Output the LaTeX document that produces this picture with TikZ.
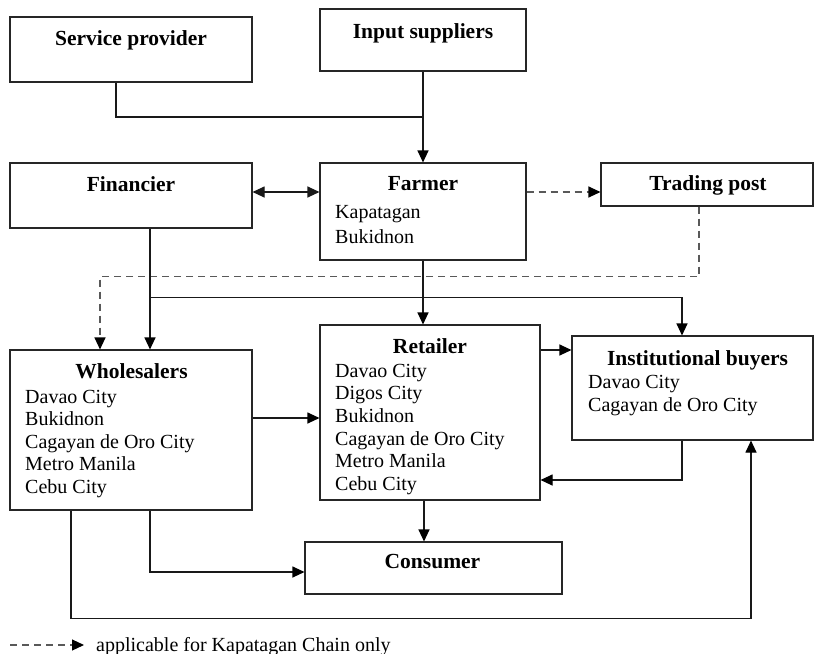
\documentclass[tikz,border=0pt]{standalone}
\usepackage{fontspec}
\setmainfont{Liberation Serif}
\usetikzlibrary{arrows.meta}
\begin{document}
\begin{tikzpicture}[x=1pt,y=-1pt,
  box/.style={draw=black!85,line width=1.1pt,inner sep=0pt,rectangle},
  title/.style={font=\bfseries\fontsize{21.5}{24}\selectfont,inner sep=0pt,anchor=base},
  city/.style={font=\fontsize{20}{23}\selectfont,inner sep=0pt,anchor=base west},
  tip/.style={-{Triangle[length=12pt,width=11pt,fill=black,color=black]}},
  link/.style={line width=1.1pt,draw=black!90},
  flow/.style={link,tip},
  twoway/.style={link,{Triangle[length=12pt,width=11pt]}-{Triangle[length=12pt,width=11pt]}},
  optflow/.style={line width=1.1pt,draw=black!65,dash pattern=on 7pt off 5pt,tip}]
\useasboundingbox (0,0) rectangle (815,654);

% boxes
\node[box,minimum width=242pt,minimum height=65pt] (sp) at (131,49.5) {};
\node[box,minimum width=206pt,minimum height=62pt] (is) at (423,40) {};
\node[box,minimum width=242pt,minimum height=65pt] (fin) at (131,195.5) {};
\node[box,minimum width=206pt,minimum height=97pt] (farm) at (423,211.5) {};
\node[box,minimum width=212pt,minimum height=43pt] (tp) at (707,184.5) {};
\node[box,minimum width=242pt,minimum height=160pt] (ws) at (131,430) {};
\node[box,minimum width=220pt,minimum height=175pt] (ret) at (430,412.5) {};
\node[box,minimum width=241pt,minimum height=104pt] (ib) at (692.5,388) {};
\node[box,minimum width=257pt,minimum height=52pt] (con) at (433.5,568) {};

% titles
\node[title] (spT) at (131,45) {Service provider};
\node[title] (isT) at (423,38) {Input suppliers};
\node[title] (finT) at (131,191) {Financier};
\node[title] (farmT) at (423,190) {Farmer};
\node[title] (tpT) at (708,190) {Trading post};
\node[title] (wsT) at (131.5,378) {Wholesalers};
\node[title] (retT) at (430,353) {Retailer};
\node[title] (ibT) at (697.5,365) {Institutional buyers};
\node[title] (conT) at (432.5,568) {Consumer};

% locations
\node[city] (farm1) at (335,218) {Kapatagan};
\node[city] (farm2) at (335,243) {Bukidnon};
\foreach \t [count=\i] in {Davao City,Bukidnon,Cagayan de Oro City,Metro Manila,Cebu City}
  \node[city] (wsL\i) at (25,{403+22.6*(\i-1)}) {\t};
\foreach \t [count=\i] in {Davao City,Digos City,Bukidnon,Cagayan de Oro City,Metro Manila,Cebu City}
  \node[city] (retL\i) at (335,{377+22.7*(\i-1)}) {\t};
\node[city] (ibL1) at (588,388) {Davao City};
\node[city] (ibL2) at (588,411) {Cagayan de Oro City};

% connectors
\coordinate (spjoin) at (is.south |- 0,117);
\draw[link] ([xshift=-15pt]sp.south) |- (spjoin);
\draw[flow] (is.south) -- (farm.north);
\draw[twoway] ([yshift=3.5pt]fin.east) coordinate (fa) -- (fa -| farm.west);
\draw[optflow] (farm.east |- fa) -- (tp.west |- fa);
\draw[optflow] ([xshift=-8pt]tp.south) -- ++(0,70) -| ([xshift=-31pt]ws.north);
\draw[flow] ([xshift=19pt]fin.south) -- ([xshift=19pt]ws.north);
\path ([xshift=19pt]fin.south) ++(0,69) coordinate (fbranch);
\draw[flow] (fbranch) -| ([xshift=-10.5pt]ib.north);
\draw[flow] (farm.south) -- (farm.south |- ret.north);
\draw[flow] ([yshift=62.5pt]ret.east) coordinate (ri) -- (ri -| ib.west);
\draw[flow] ([xshift=-10.5pt]ib.south) |- ([yshift=-67.5pt]ret.east);
\draw[flow] ([yshift=12pt]ws.east) coordinate (wr) -- (wr -| ret.west);
\draw[flow] ([xshift=-6pt]ret.south) coordinate (rc) -- (rc |- con.north);
\draw[flow] ([xshift=19pt]ws.south) |- ([yshift=-4pt]con.west);
\draw[flow] ([xshift=-60pt]ws.south) -- ++(0,108) -| ([xshift=58.5pt]ib.south);

% legend
\coordinate (lgA) at (10,645);
\coordinate (lgB) at (84,645);
\draw[optflow] (lgA) -- (lgB);
\node[city] (lgT) at (96,651) {applicable for Kapatagan Chain only};
\end{tikzpicture}
\end{document}
